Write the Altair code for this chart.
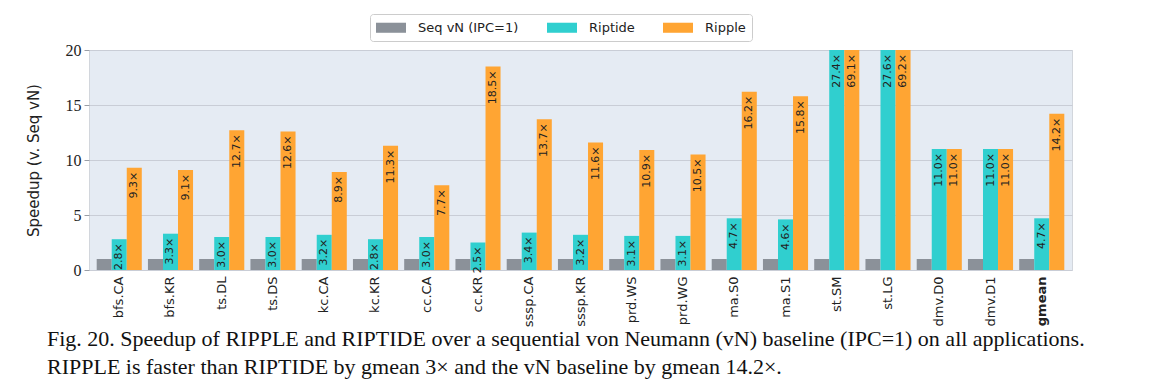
import altair as alt
import pandas as pd

apps = ["bfs.CA", "bfs.KR", "ts.DL", "ts.DS", "kc.CA", "kc.KR", "cc.CA", "cc.KR",
        "sssp.CA", "sssp.KR", "prd.WS", "prd.WG", "ma.S0", "ma.S1", "st.SM", "st.LG",
        "dmv.D0", "dmv.D1", "gmean"]
seq_vn = [1.0, 1.0, 1.0, 1.0, 1.0, 1.0, 1.0, 1.0, 1.0, 1.0, 1.0, 1.0, 1.0, 1.0, 1.0, 1.0, 1.0, 1.0, 1.0]
riptide = [2.8, 3.3, 3.0, 3.0, 3.2, 2.8, 3.0, 2.5, 3.4, 3.2, 3.1, 3.1, 4.7, 4.6, 27.4, 27.6, 11.0, 11.0, 4.7]
ripple = [9.3, 9.1, 12.7, 12.6, 8.9, 11.3, 7.7, 18.5, 13.7, 11.6, 10.9, 10.5, 16.2, 15.8, 69.1, 69.2, 11.0, 11.0, 14.2]

series_names = ["Seq vN (IPC=1)", "Riptide", "Ripple"]
colors = ["#8b9199", "#30cfcf", "#ffa533"]
y_ticks = [0, 5, 10, 15, 20]
y_max = 20

caption = [
    "Fig. 20.  Speedup of RIPPLE and RIPTIDE over a sequential von Neumann (vN) baseline (IPC=1) on all applications.",
    "RIPPLE is faster than RIPTIDE by gmean 3\u00d7 and the vN baseline by gmean 14.2\u00d7.",
]

rows = []
for i, a in enumerate(apps):
    for s, vals in zip(series_names, [seq_vn, riptide, ripple]):
        v = vals[i]
        rows.append({
            "app": a,
            "series": s,
            "value": v,
            "clipped": min(v, y_max),
            "label": "" if s == series_names[0] else f"{v:.1f}\u00d7",
        })
df = pd.DataFrame(rows)

x_enc = alt.X(
    "app:N", sort=apps,
    scale=alt.Scale(paddingInner=0.12, paddingOuter=0.15),
    axis=alt.Axis(
        title=None, labelAngle=-90, labelFont="DejaVu Sans", labelFontSize=13,
        labelFontWeight=alt.expr("datum.value == 'gmean' ? 'bold' : 'normal'"),
        labelColor="#222222", ticks=False, domain=False, labelPadding=6,
    ),
)
xo_enc = alt.XOffset("series:N", sort=series_names,
                     scale=alt.Scale(domain=series_names, paddingInner=0, paddingOuter=0))
y_enc = alt.Y(
    "clipped:Q",
    scale=alt.Scale(domain=[0, y_max], nice=False, clamp=True),
    axis=alt.Axis(
        values=y_ticks, title="Speedup (v. Seq vN)", titleFont="DejaVu Sans",
        titleFontSize=15, titleFontWeight="normal", titleColor="#222222", titlePadding=24,
        labelFont="Liberation Serif", labelFontSize=16, labelColor="#222222",
        tickColor="#9a9ea6", tickSize=5, domain=False, grid=True,
        gridColor="#c9cdd6", gridWidth=1, labelPadding=3,
    ),
)

bars = alt.Chart(df).mark_bar().encode(
    x=x_enc, xOffset=xo_enc, y=y_enc,
    color=alt.Color(
        "series:N", sort=series_names,
        scale=alt.Scale(domain=series_names, range=colors),
        legend=alt.Legend(
            title=None, orient="none", legendX=281, legendY=-36, direction="horizontal",
            symbolType="M-1,-0.67h4v1.34h-4z", symbolSize=225, symbolStrokeWidth=0,
            labelFont="DejaVu Sans", labelFontSize=13, labelColor="#222222",
            columnPadding=28, labelOffset=27, fillColor="white", strokeColor="#cccccc",
            cornerRadius=3, padding=6,
        ),
    ),
)

labels = alt.Chart(df).transform_filter("datum.label != ''").mark_text(
    angle=270, align="right", baseline="middle", dx=-4, fontSize=11,
    font="DejaVu Sans", color="#222222",
).encode(x=x_enc, xOffset=xo_enc, y=y_enc, text="label:N")

chart = alt.layer(bars, labels).properties(
    width=983, height=220,
    autosize=alt.AutoSizeParams(type="none"),
    padding={"left": 81, "top": 42, "right": 60, "bottom": 113},
    title=alt.TitleParams(
        text=caption, orient="bottom", anchor="start", frame="group", dx=-42,
        font="Liberation Serif", fontSize=22, fontWeight="normal", color="#111111",
        lineHeight=28, offset=2,
    ),
).configure_view(fill="#e5ebf3", stroke="#d2d6dc")

chart.save("out.html", embed_options={"renderer": "svg", "actions": False})
